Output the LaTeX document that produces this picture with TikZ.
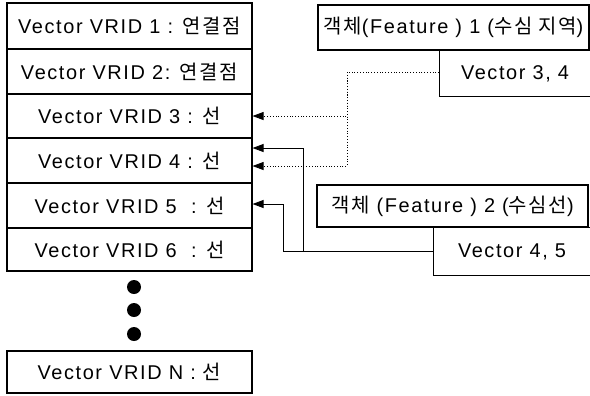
\documentclass[tikz,border=0pt]{standalone}
\usepackage{fontspec}
\setmainfont{Liberation Sans}[LetterSpace=8]
\newfontfamily\kr{Noto Sans CJK KR}[LetterSpace=8]
\usetikzlibrary{arrows.meta}
\begin{document}
\begin{tikzpicture}[x=1bp,y=-1bp,
  cell/.style={draw=black,line width=1.1bp,rectangle,inner sep=0pt,
    minimum width=245bp,font=\fontsize{20}{24}\selectfont},
  tag/.style={draw=black,line width=1.1bp,rectangle,inner sep=0pt,
    font=\fontsize{20}{24}\selectfont},
  solidlink/.style={line width=0.9bp,-{Triangle[length=11bp,width=8bp]}},
  dotlink/.style={line width=0.8bp,dotted,-{Triangle[length=11bp,width=8bp]}},
  dot/.style={circle,fill=black,inner sep=0pt,minimum size=14bp}]
\useasboundingbox (0,0) rectangle (590,395);

% column of vector records
\node[cell,minimum height=46bp] (r1) at (129.5,26) {Vector VRID 1 : {\kr 연결점}};
\node[cell,minimum height=45bp] (r2) at (129.5,71.5) {Vector VRID 2: {\kr 연결점}};
\node[cell,minimum height=44bp] (r3) at (129.5,116) {Vector VRID 3 : {\kr 선}};
\node[cell,minimum height=45bp] (r4) at (129.5,160.5) {Vector VRID 4 : {\kr 선}};
\node[cell,minimum height=45bp] (r5) at (129.5,205.5) {Vector VRID 5 \ : {\kr 선}};
\node[cell,minimum height=43bp] (r6) at (129.5,249.5) {Vector VRID 6 \ : {\kr 선}};
\node[dot] (d1) at (134,287) {};
\node[dot] (d2) at (134,310) {};
\node[dot] (d3) at (134,334) {};
\node[cell,minimum height=42bp] (rn) at (129.5,372) {Vector VRID N : {\kr 선}};

% feature 1 and its vector list
\node[tag,minimum width=271bp,minimum height=45bp] (f1) at (453.5,27.5)
  {{\kr 객체}(Feature ) 1 ({\kr 수심 지역})};
\node[tag,minimum width=151bp,minimum height=46bp,anchor=north west] (v34) at (439,50)
  {Vector 3, 4};

% feature 2 and its vector list
\node[tag,minimum width=271bp,minimum height=42bp] (f2) at (452.5,206)
  {{\kr 객체} (Feature ) 2 ({\kr 수심선})};
\node[tag,minimum width=157bp,minimum height=48bp,anchor=north west] (v45) at (433,227)
  {Vector 4, 5};

% arrow end points on the record column
\coordinate (t3) at (r3.east);
\coordinate (t4a) at ([yshift=-5.5bp]r4.east);
\coordinate (t4b) at ([yshift=12.5bp]r4.east);
\coordinate (t5) at ([yshift=1.5bp]r5.east);
\coordinate (j1) at (347,72);
\coordinate (j2) at (303,251);
\coordinate (j3) at (283,251);

% links from feature 1 (dotted)
\draw[dotlink] (v34.west |- j1) -- (j1) |- (t3);
\draw[dotlink] (j1) |- (t4a);

% links from feature 2 (solid)
\draw[solidlink] (v45.west |- j3) -- (j3) |- (t5);
\draw[solidlink] (j2) |- (t4b);
\end{tikzpicture}
\end{document}
